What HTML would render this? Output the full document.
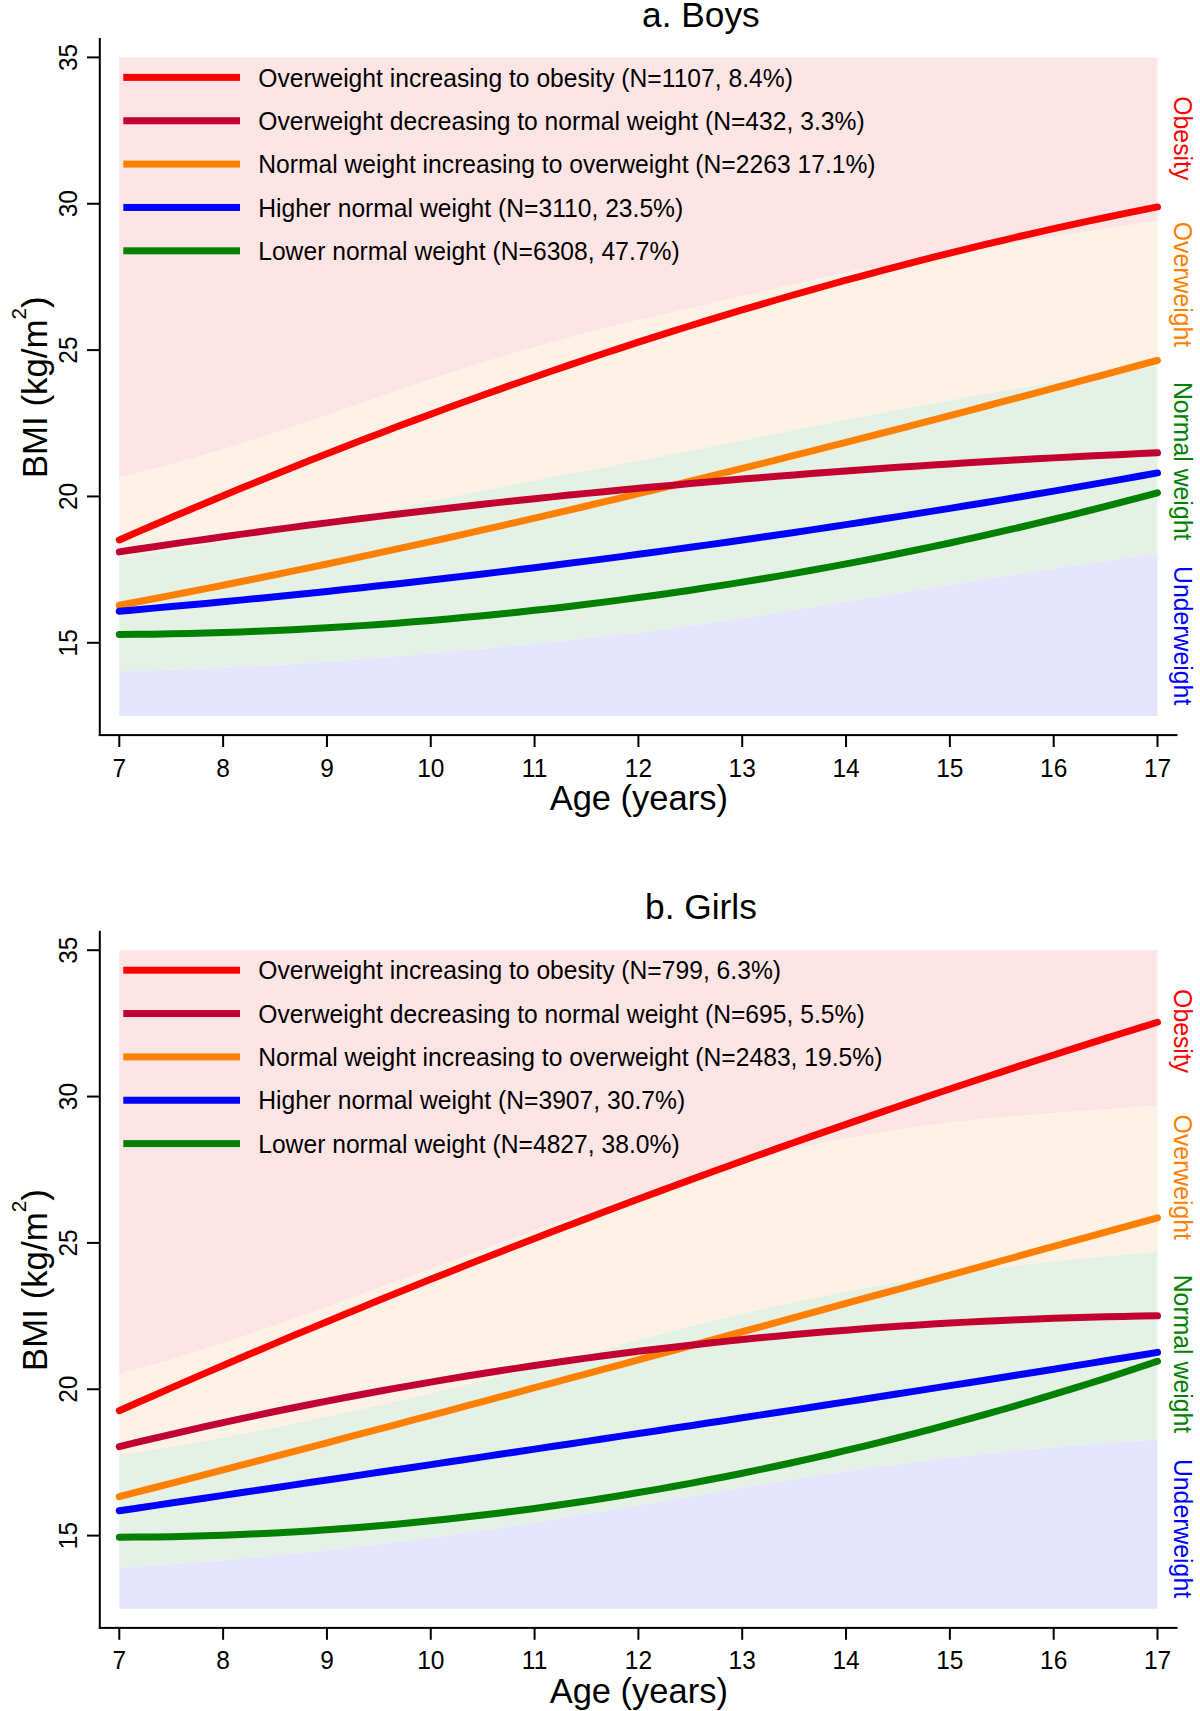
<!DOCTYPE html>
<html><head><meta charset="utf-8"><style>
html,body{margin:0;padding:0;background:#fff;overflow:hidden;}
svg{display:block;}
text{font-family:"Liberation Sans",sans-serif;fill:#000;}
</style></head><body>
<svg width="1200" height="1711" viewBox="0 0 1200 1711">
<rect width="1200" height="1711" fill="#fff"/>
<path d="M119.30,57.40 L171.21,57.40 L223.12,57.40 L275.03,57.40 L326.94,57.40 L378.85,57.40 L430.76,57.40 L482.67,57.40 L534.58,57.40 L586.49,57.40 L638.40,57.40 L690.31,57.40 L742.22,57.40 L794.13,57.40 L846.04,57.40 L897.95,57.40 L949.86,57.40 L1001.77,57.40 L1053.68,57.40 L1105.59,57.40 L1157.50,57.40 L1157.50,221.02 L1105.59,228.92 L1053.68,236.53 L1001.77,244.73 L949.86,253.51 L897.95,262.88 L846.04,273.12 L794.13,284.24 L742.22,296.24 L690.31,308.24 L638.40,320.24 L586.49,333.12 L534.58,347.17 L482.67,362.69 L430.76,379.37 L378.85,397.22 L326.94,415.37 L275.03,432.93 L223.12,449.62 L171.21,464.55 L119.30,478.01 Z" fill="#fee5e5"/>
<path d="M119.30,478.01 L171.21,464.55 L223.12,449.62 L275.03,432.93 L326.94,415.37 L378.85,397.22 L430.76,379.37 L482.67,362.69 L534.58,347.17 L586.49,333.12 L638.40,320.24 L690.31,308.24 L742.22,296.24 L794.13,284.24 L846.04,273.12 L897.95,262.88 L949.86,253.51 L1001.77,244.73 L1053.68,236.53 L1105.59,228.92 L1157.50,221.02 L1157.50,365.91 L1105.59,373.81 L1053.68,382.30 L1001.77,391.08 L949.86,400.15 L897.95,409.81 L846.04,419.76 L794.13,430.01 L742.22,440.54 L690.31,450.79 L638.40,460.74 L586.49,470.40 L534.58,480.35 L482.67,490.60 L430.76,501.13 L378.85,512.26 L326.94,522.79 L275.03,532.74 L223.12,542.11 L171.21,550.31 L119.30,557.33 Z" fill="#fef2e6"/>
<path d="M119.30,557.33 L171.21,550.31 L223.12,542.11 L275.03,532.74 L326.94,522.79 L378.85,512.26 L430.76,501.13 L482.67,490.60 L534.58,480.35 L586.49,470.40 L638.40,460.74 L690.31,450.79 L742.22,440.54 L794.13,430.01 L846.04,419.76 L897.95,409.81 L949.86,400.15 L1001.77,391.08 L1053.68,382.30 L1105.59,373.81 L1157.50,365.91 L1157.50,553.53 L1105.59,560.84 L1053.68,568.45 L1001.77,576.65 L949.86,584.85 L897.95,593.33 L846.04,601.53 L794.13,610.02 L742.22,618.21 L690.31,625.82 L638.40,632.56 L586.49,638.12 L534.58,643.68 L482.67,648.65 L430.76,653.34 L378.85,657.73 L326.94,661.83 L275.03,665.05 L223.12,667.68 L171.21,669.73 L119.30,670.90 Z" fill="#e6f1e5"/>
<path d="M119.30,670.90 L171.21,669.73 L223.12,667.68 L275.03,665.05 L326.94,661.83 L378.85,657.73 L430.76,653.34 L482.67,648.65 L534.58,643.68 L586.49,638.12 L638.40,632.56 L690.31,625.82 L742.22,618.21 L794.13,610.02 L846.04,601.53 L897.95,593.33 L949.86,584.85 L1001.77,576.65 L1053.68,568.45 L1105.59,560.84 L1157.50,553.53 L1157.50,715.98 L1105.59,715.98 L1053.68,715.98 L1001.77,715.98 L949.86,715.98 L897.95,715.98 L846.04,715.98 L794.13,715.98 L742.22,715.98 L690.31,715.98 L638.40,715.98 L586.49,715.98 L534.58,715.98 L482.67,715.98 L430.76,715.98 L378.85,715.98 L326.94,715.98 L275.03,715.98 L223.12,715.98 L171.21,715.98 L119.30,715.98 Z" fill="#e5e5fd"/>
<path d="M119.30,605.23 L136.60,601.98 L153.91,598.70 L171.21,595.38 L188.51,592.02 L205.82,588.63 L223.12,585.21 L240.42,581.75 L257.73,578.26 L275.03,574.73 L292.33,571.17 L309.64,567.58 L326.94,563.95 L344.24,560.30 L361.55,556.61 L378.85,552.89 L396.15,549.15 L413.46,545.37 L430.76,541.56 L448.06,537.72 L465.37,533.85 L482.67,529.96 L499.97,526.04 L517.28,522.09 L534.58,518.11 L551.88,514.10 L569.19,510.07 L586.49,506.02 L603.79,501.93 L621.10,497.83 L638.40,493.70 L655.70,489.54 L673.01,485.36 L690.31,481.16 L707.61,476.93 L724.92,472.68 L742.22,468.41 L759.52,464.12 L776.83,459.80 L794.13,455.47 L811.43,451.11 L828.74,446.73 L846.04,442.34 L863.34,437.92 L880.65,433.49 L897.95,429.04 L915.25,424.57 L932.56,420.08 L949.86,415.57 L967.16,411.05 L984.47,406.51 L1001.77,401.96 L1019.07,397.39 L1036.38,392.81 L1053.68,388.21 L1070.98,383.59 L1088.29,378.96 L1105.59,374.32 L1122.89,369.67 L1140.20,365.00 L1157.50,360.32" fill="none" stroke="#ff7f00" stroke-width="7" stroke-linecap="round" stroke-linejoin="round"/>
<path d="M119.30,634.51 L136.60,634.36 L153.91,634.13 L171.21,633.83 L188.51,633.46 L205.82,633.01 L223.12,632.48 L240.42,631.89 L257.73,631.22 L275.03,630.47 L292.33,629.65 L309.64,628.76 L326.94,627.79 L344.24,626.75 L361.55,625.63 L378.85,624.44 L396.15,623.17 L413.46,621.83 L430.76,620.42 L448.06,618.93 L465.37,617.36 L482.67,615.72 L499.97,614.01 L517.28,612.22 L534.58,610.35 L551.88,608.41 L569.19,606.40 L586.49,604.31 L603.79,602.14 L621.10,599.90 L638.40,597.58 L655.70,595.19 L673.01,592.73 L690.31,590.18 L707.61,587.57 L724.92,584.87 L742.22,582.10 L759.52,579.26 L776.83,576.34 L794.13,573.34 L811.43,570.27 L828.74,567.12 L846.04,563.90 L863.34,560.60 L880.65,557.22 L897.95,553.77 L915.25,550.24 L932.56,546.64 L949.86,542.96 L967.16,539.20 L984.47,535.37 L1001.77,531.46 L1019.07,527.48 L1036.38,523.41 L1053.68,519.27 L1070.98,515.06 L1088.29,510.77 L1105.59,506.40 L1122.89,501.95 L1140.20,497.43 L1157.50,492.83" fill="none" stroke="#008000" stroke-width="7" stroke-linecap="round" stroke-linejoin="round"/>
<path d="M119.30,611.14 L136.60,609.65 L153.91,608.13 L171.21,606.59 L188.51,605.01 L205.82,603.41 L223.12,601.78 L240.42,600.12 L257.73,598.43 L275.03,596.72 L292.33,594.97 L309.64,593.20 L326.94,591.41 L344.24,589.58 L361.55,587.73 L378.85,585.84 L396.15,583.93 L413.46,582.00 L430.76,580.03 L448.06,578.04 L465.37,576.02 L482.67,573.97 L499.97,571.89 L517.28,569.79 L534.58,567.66 L551.88,565.50 L569.19,563.32 L586.49,561.10 L603.79,558.86 L621.10,556.60 L638.40,554.30 L655.70,551.98 L673.01,549.63 L690.31,547.25 L707.61,544.85 L724.92,542.42 L742.22,539.96 L759.52,537.47 L776.83,534.96 L794.13,532.42 L811.43,529.86 L828.74,527.26 L846.04,524.64 L863.34,521.99 L880.65,519.32 L897.95,516.62 L915.25,513.89 L932.56,511.14 L949.86,508.36 L967.16,505.55 L984.47,502.72 L1001.77,499.86 L1019.07,496.97 L1036.38,494.05 L1053.68,491.11 L1070.98,488.15 L1088.29,485.15 L1105.59,482.13 L1122.89,479.09 L1140.20,476.01 L1157.50,472.92" fill="none" stroke="#0000ff" stroke-width="7" stroke-linecap="round" stroke-linejoin="round"/>
<path d="M119.30,551.89 L136.60,549.28 L153.91,546.70 L171.21,544.16 L188.51,541.66 L205.82,539.18 L223.12,536.75 L240.42,534.35 L257.73,531.98 L275.03,529.64 L292.33,527.35 L309.64,525.08 L326.94,522.85 L344.24,520.65 L361.55,518.49 L378.85,516.36 L396.15,514.26 L413.46,512.20 L430.76,510.17 L448.06,508.17 L465.37,506.21 L482.67,504.28 L499.97,502.38 L517.28,500.51 L534.58,498.67 L551.88,496.87 L569.19,495.10 L586.49,493.36 L603.79,491.65 L621.10,489.98 L638.40,488.33 L655.70,486.72 L673.01,485.14 L690.31,483.59 L707.61,482.06 L724.92,480.57 L742.22,479.11 L759.52,477.69 L776.83,476.29 L794.13,474.92 L811.43,473.58 L828.74,472.27 L846.04,470.99 L863.34,469.74 L880.65,468.51 L897.95,467.32 L915.25,466.16 L932.56,465.02 L949.86,463.92 L967.16,462.84 L984.47,461.79 L1001.77,460.77 L1019.07,459.78 L1036.38,458.81 L1053.68,457.88 L1070.98,456.97 L1088.29,456.09 L1105.59,455.23 L1122.89,454.41 L1140.20,453.61 L1157.50,452.83" fill="none" stroke="#c2002f" stroke-width="7" stroke-linecap="round" stroke-linejoin="round"/>
<path d="M119.30,539.93 L136.60,532.40 L153.91,524.94 L171.21,517.53 L188.51,510.19 L205.82,502.92 L223.12,495.70 L240.42,488.55 L257.73,481.47 L275.03,474.44 L292.33,467.49 L309.64,460.59 L326.94,453.76 L344.24,447.00 L361.55,440.30 L378.85,433.67 L396.15,427.10 L413.46,420.60 L430.76,414.16 L448.06,407.80 L465.37,401.49 L482.67,395.26 L499.97,389.09 L517.28,382.99 L534.58,376.96 L551.88,370.99 L569.19,365.10 L586.49,359.27 L603.79,353.51 L621.10,347.82 L638.40,342.20 L655.70,336.65 L673.01,331.17 L690.31,325.75 L707.61,320.41 L724.92,315.14 L742.22,309.94 L759.52,304.81 L776.83,299.75 L794.13,294.76 L811.43,289.84 L828.74,285.00 L846.04,280.23 L863.34,275.53 L880.65,270.90 L897.95,266.34 L915.25,261.86 L932.56,257.45 L949.86,253.12 L967.16,248.86 L984.47,244.67 L1001.77,240.56 L1019.07,236.52 L1036.38,232.56 L1053.68,228.67 L1070.98,224.86 L1088.29,221.12 L1105.59,217.46 L1122.89,213.87 L1140.20,210.36 L1157.50,206.93" fill="none" stroke="#ff0000" stroke-width="7" stroke-linecap="round" stroke-linejoin="round"/>
<rect x="123.3" y="73.90" width="116.7" height="7" fill="#ff0000"/>
<text transform="translate(258.2,86.60) scale(1,1.065)" font-size="24.66">Overweight increasing to obesity (N=1107, 8.4%)</text>
<rect x="123.3" y="117.25" width="116.7" height="7" fill="#c2002f"/>
<text transform="translate(258.2,129.95) scale(1,1.065)" font-size="24.66">Overweight decreasing to normal weight (N=432, 3.3%)</text>
<rect x="123.3" y="160.60" width="116.7" height="7" fill="#ff7f00"/>
<text transform="translate(258.2,173.30) scale(1,1.065)" font-size="24.66">Normal weight increasing to overweight (N=2263 17.1%)</text>
<rect x="123.3" y="203.95" width="116.7" height="7" fill="#0000ff"/>
<text transform="translate(258.2,216.65) scale(1,1.065)" font-size="24.66">Higher normal weight (N=3110, 23.5%)</text>
<rect x="123.3" y="247.30" width="116.7" height="7" fill="#008000"/>
<text transform="translate(258.2,260.00) scale(1,1.065)" font-size="24.66">Lower normal weight (N=6308, 47.7%)</text>
<rect x="98.8" y="38" width="2" height="698" fill="#000"/>
<rect x="98.8" y="734.1" width="1078.7" height="2" fill="#000"/>
<rect x="87" y="641.80" width="13" height="2" fill="#000"/>
<text transform="translate(77.2,642.80) rotate(-90) scale(1,1.065)" text-anchor="middle" font-size="24.5">15</text>
<rect x="87" y="495.45" width="13" height="2" fill="#000"/>
<text transform="translate(77.2,496.45) rotate(-90) scale(1,1.065)" text-anchor="middle" font-size="24.5">20</text>
<rect x="87" y="349.10" width="13" height="2" fill="#000"/>
<text transform="translate(77.2,350.10) rotate(-90) scale(1,1.065)" text-anchor="middle" font-size="24.5">25</text>
<rect x="87" y="202.75" width="13" height="2" fill="#000"/>
<text transform="translate(77.2,203.75) rotate(-90) scale(1,1.065)" text-anchor="middle" font-size="24.5">30</text>
<rect x="87" y="56.40" width="13" height="2" fill="#000"/>
<text transform="translate(77.2,57.40) rotate(-90) scale(1,1.065)" text-anchor="middle" font-size="24.5">35</text>
<rect x="118.30" y="735" width="2" height="12" fill="#000"/>
<text transform="translate(119.30,776.6) scale(1,1.065)" text-anchor="middle" font-size="24.5">7</text>
<rect x="222.12" y="735" width="2" height="12" fill="#000"/>
<text transform="translate(223.12,776.6) scale(1,1.065)" text-anchor="middle" font-size="24.5">8</text>
<rect x="325.94" y="735" width="2" height="12" fill="#000"/>
<text transform="translate(326.94,776.6) scale(1,1.065)" text-anchor="middle" font-size="24.5">9</text>
<rect x="429.76" y="735" width="2" height="12" fill="#000"/>
<text transform="translate(430.76,776.6) scale(1,1.065)" text-anchor="middle" font-size="24.5">10</text>
<rect x="533.58" y="735" width="2" height="12" fill="#000"/>
<text transform="translate(534.58,776.6) scale(1,1.065)" text-anchor="middle" font-size="24.5">11</text>
<rect x="637.40" y="735" width="2" height="12" fill="#000"/>
<text transform="translate(638.40,776.6) scale(1,1.065)" text-anchor="middle" font-size="24.5">12</text>
<rect x="741.22" y="735" width="2" height="12" fill="#000"/>
<text transform="translate(742.22,776.6) scale(1,1.065)" text-anchor="middle" font-size="24.5">13</text>
<rect x="845.04" y="735" width="2" height="12" fill="#000"/>
<text transform="translate(846.04,776.6) scale(1,1.065)" text-anchor="middle" font-size="24.5">14</text>
<rect x="948.86" y="735" width="2" height="12" fill="#000"/>
<text transform="translate(949.86,776.6) scale(1,1.065)" text-anchor="middle" font-size="24.5">15</text>
<rect x="1052.68" y="735" width="2" height="12" fill="#000"/>
<text transform="translate(1053.68,776.6) scale(1,1.065)" text-anchor="middle" font-size="24.5">16</text>
<rect x="1156.50" y="735" width="2" height="12" fill="#000"/>
<text transform="translate(1157.50,776.6) scale(1,1.065)" text-anchor="middle" font-size="24.5">17</text>
<text x="638.8" y="809.9" text-anchor="middle" font-size="34.5">Age (years)</text>
<text x="700.9" y="26.5" text-anchor="middle" font-size="35.3">a. Boys</text>
<text transform="translate(47.3,478.1) rotate(-90)" font-size="34.8">BMI (kg/m<tspan font-size="20.7" dy="-21.5">2</tspan><tspan dy="21.5">)</tspan></text>
<text transform="translate(1173.8,96.3) rotate(90) scale(1,1.065)" font-size="24.8" style="fill:#ff0000">Obesity</text>
<text transform="translate(1173.8,221.8) rotate(90) scale(1,1.065)" font-size="24.8" style="fill:#ff7f00">Overweight</text>
<text transform="translate(1173.8,381.9) rotate(90) scale(1,1.065)" font-size="24.8" style="fill:#008000">Normal weight</text>
<text transform="translate(1173.8,566.1) rotate(90) scale(1,1.065)" font-size="24.8" style="fill:#0000ff">Underweight</text>
<path d="M119.30,950.20 L171.21,950.20 L223.12,950.20 L275.03,950.20 L326.94,950.20 L378.85,950.20 L430.76,950.20 L482.67,950.20 L534.58,950.20 L586.49,950.20 L638.40,950.20 L690.31,950.20 L742.22,950.20 L794.13,950.20 L846.04,950.20 L897.95,950.20 L949.86,950.20 L1001.77,950.20 L1053.68,950.20 L1105.59,950.20 L1157.50,950.20 L1157.50,1105.62 L1105.59,1109.43 L1053.68,1113.23 L1001.77,1117.33 L949.86,1122.60 L897.95,1129.63 L846.04,1138.41 L794.13,1149.24 L742.22,1162.11 L690.31,1177.34 L638.40,1194.02 L586.49,1212.17 L534.58,1230.61 L482.67,1249.63 L430.76,1268.95 L378.85,1287.98 L326.94,1307.00 L275.03,1325.44 L223.12,1343.30 L171.21,1359.69 L119.30,1374.32 Z" fill="#fee5e5"/>
<path d="M119.30,1374.32 L171.21,1359.69 L223.12,1343.30 L275.03,1325.44 L326.94,1307.00 L378.85,1287.98 L430.76,1268.95 L482.67,1249.63 L534.58,1230.61 L586.49,1212.17 L638.40,1194.02 L690.31,1177.34 L742.22,1162.11 L794.13,1149.24 L846.04,1138.41 L897.95,1129.63 L949.86,1122.60 L1001.77,1117.33 L1053.68,1113.23 L1105.59,1109.43 L1157.50,1105.62 L1157.50,1251.68 L1105.59,1256.36 L1053.68,1261.34 L1001.77,1267.19 L949.86,1273.93 L897.95,1282.12 L846.04,1291.49 L794.13,1302.03 L742.22,1313.73 L690.31,1326.61 L638.40,1340.08 L586.49,1354.13 L534.58,1367.59 L482.67,1380.76 L430.76,1393.35 L378.85,1405.35 L326.94,1416.47 L275.03,1427.59 L223.12,1437.55 L171.21,1446.91 L119.30,1455.11 Z" fill="#fef2e6"/>
<path d="M119.30,1455.11 L171.21,1446.91 L223.12,1437.55 L275.03,1427.59 L326.94,1416.47 L378.85,1405.35 L430.76,1393.35 L482.67,1380.76 L534.58,1367.59 L586.49,1354.13 L638.40,1340.08 L690.31,1326.61 L742.22,1313.73 L794.13,1302.03 L846.04,1291.49 L897.95,1282.12 L949.86,1273.93 L1001.77,1267.19 L1053.68,1261.34 L1105.59,1256.36 L1157.50,1251.68 L1157.50,1439.59 L1105.59,1443.11 L1053.68,1447.20 L1001.77,1451.89 L949.86,1457.45 L897.95,1463.89 L846.04,1471.21 L794.13,1479.11 L742.22,1487.60 L690.31,1496.38 L638.40,1505.16 L586.49,1513.94 L534.58,1522.43 L482.67,1530.33 L430.76,1537.65 L378.85,1544.09 L326.94,1549.94 L275.03,1555.21 L223.12,1560.19 L171.21,1564.28 L119.30,1567.80 Z" fill="#e6f1e5"/>
<path d="M119.30,1567.80 L171.21,1564.28 L223.12,1560.19 L275.03,1555.21 L326.94,1549.94 L378.85,1544.09 L430.76,1537.65 L482.67,1530.33 L534.58,1522.43 L586.49,1513.94 L638.40,1505.16 L690.31,1496.38 L742.22,1487.60 L794.13,1479.11 L846.04,1471.21 L897.95,1463.89 L949.86,1457.45 L1001.77,1451.89 L1053.68,1447.20 L1105.59,1443.11 L1157.50,1439.59 L1157.50,1608.78 L1105.59,1608.78 L1053.68,1608.78 L1001.77,1608.78 L949.86,1608.78 L897.95,1608.78 L846.04,1608.78 L794.13,1608.78 L742.22,1608.78 L690.31,1608.78 L638.40,1608.78 L586.49,1608.78 L534.58,1608.78 L482.67,1608.78 L430.76,1608.78 L378.85,1608.78 L326.94,1608.78 L275.03,1608.78 L223.12,1608.78 L171.21,1608.78 L119.30,1608.78 Z" fill="#e5e5fd"/>
<path d="M119.30,1496.64 L136.60,1492.20 L153.91,1487.75 L171.21,1483.29 L188.51,1478.83 L205.82,1474.35 L223.12,1469.87 L240.42,1465.37 L257.73,1460.87 L275.03,1456.36 L292.33,1451.84 L309.64,1447.31 L326.94,1442.77 L344.24,1438.23 L361.55,1433.67 L378.85,1429.11 L396.15,1424.55 L413.46,1419.97 L430.76,1415.39 L448.06,1410.80 L465.37,1406.20 L482.67,1401.59 L499.97,1396.98 L517.28,1392.36 L534.58,1387.74 L551.88,1383.10 L569.19,1378.47 L586.49,1373.82 L603.79,1369.17 L621.10,1364.51 L638.40,1359.85 L655.70,1355.18 L673.01,1350.50 L690.31,1345.82 L707.61,1341.14 L724.92,1336.45 L742.22,1331.75 L759.52,1327.05 L776.83,1322.34 L794.13,1317.63 L811.43,1312.91 L828.74,1308.19 L846.04,1303.46 L863.34,1298.73 L880.65,1294.00 L897.95,1289.26 L915.25,1284.52 L932.56,1279.77 L949.86,1275.02 L967.16,1270.27 L984.47,1265.51 L1001.77,1260.75 L1019.07,1255.99 L1036.38,1251.22 L1053.68,1246.45 L1070.98,1241.67 L1088.29,1236.90 L1105.59,1232.12 L1122.89,1227.34 L1140.20,1222.55 L1157.50,1217.77" fill="none" stroke="#ff7f00" stroke-width="7" stroke-linecap="round" stroke-linejoin="round"/>
<path d="M119.30,1537.21 L136.60,1537.11 L153.91,1536.93 L171.21,1536.64 L188.51,1536.26 L205.82,1535.78 L223.12,1535.21 L240.42,1534.54 L257.73,1533.77 L275.03,1532.91 L292.33,1531.95 L309.64,1530.90 L326.94,1529.74 L344.24,1528.50 L361.55,1527.15 L378.85,1525.71 L396.15,1524.18 L413.46,1522.54 L430.76,1520.81 L448.06,1518.99 L465.37,1517.07 L482.67,1515.05 L499.97,1512.94 L517.28,1510.72 L534.58,1508.42 L551.88,1506.01 L569.19,1503.52 L586.49,1500.92 L603.79,1498.23 L621.10,1495.44 L638.40,1492.56 L655.70,1489.58 L673.01,1486.50 L690.31,1483.33 L707.61,1480.06 L724.92,1476.69 L742.22,1473.23 L759.52,1469.67 L776.83,1466.02 L794.13,1462.26 L811.43,1458.42 L828.74,1454.47 L846.04,1450.43 L863.34,1446.30 L880.65,1442.07 L897.95,1437.74 L915.25,1433.31 L932.56,1428.79 L949.86,1424.18 L967.16,1419.46 L984.47,1414.65 L1001.77,1409.75 L1019.07,1404.74 L1036.38,1399.65 L1053.68,1394.45 L1070.98,1389.16 L1088.29,1383.77 L1105.59,1378.29 L1122.89,1372.71 L1140.20,1367.03 L1157.50,1361.26" fill="none" stroke="#008000" stroke-width="7" stroke-linecap="round" stroke-linejoin="round"/>
<path d="M119.30,1510.77 L136.60,1508.20 L153.91,1505.63 L171.21,1503.06 L188.51,1500.50 L205.82,1497.93 L223.12,1495.37 L240.42,1492.81 L257.73,1490.25 L275.03,1487.68 L292.33,1485.12 L309.64,1482.56 L326.94,1480.00 L344.24,1477.43 L361.55,1474.87 L378.85,1472.30 L396.15,1469.74 L413.46,1467.17 L430.76,1464.60 L448.06,1462.03 L465.37,1459.45 L482.67,1456.87 L499.97,1454.30 L517.28,1451.71 L534.58,1449.13 L551.88,1446.54 L569.19,1443.95 L586.49,1441.35 L603.79,1438.76 L621.10,1436.15 L638.40,1433.55 L655.70,1430.93 L673.01,1428.32 L690.31,1425.70 L707.61,1423.07 L724.92,1420.44 L742.22,1417.80 L759.52,1415.16 L776.83,1412.51 L794.13,1409.86 L811.43,1407.20 L828.74,1404.53 L846.04,1401.86 L863.34,1399.18 L880.65,1396.49 L897.95,1393.79 L915.25,1391.09 L932.56,1388.38 L949.86,1385.66 L967.16,1382.94 L984.47,1380.20 L1001.77,1377.46 L1019.07,1374.71 L1036.38,1371.94 L1053.68,1369.17 L1070.98,1366.39 L1088.29,1363.60 L1105.59,1360.80 L1122.89,1358.00 L1140.20,1355.18 L1157.50,1352.35" fill="none" stroke="#0000ff" stroke-width="7" stroke-linecap="round" stroke-linejoin="round"/>
<path d="M119.30,1446.60 L136.60,1442.43 L153.91,1438.32 L171.21,1434.29 L188.51,1430.32 L205.82,1426.43 L223.12,1422.60 L240.42,1418.85 L257.73,1415.16 L275.03,1411.55 L292.33,1408.00 L309.64,1404.52 L326.94,1401.11 L344.24,1397.77 L361.55,1394.49 L378.85,1391.29 L396.15,1388.15 L413.46,1385.08 L430.76,1382.08 L448.06,1379.15 L465.37,1376.28 L482.67,1373.49 L499.97,1370.76 L517.28,1368.10 L534.58,1365.50 L551.88,1362.97 L569.19,1360.51 L586.49,1358.12 L603.79,1355.79 L621.10,1353.53 L638.40,1351.34 L655.70,1349.21 L673.01,1347.15 L690.31,1345.15 L707.61,1343.23 L724.92,1341.36 L742.22,1339.57 L759.52,1337.83 L776.83,1336.17 L794.13,1334.57 L811.43,1333.03 L828.74,1331.56 L846.04,1330.16 L863.34,1328.82 L880.65,1327.54 L897.95,1326.33 L915.25,1325.18 L932.56,1324.10 L949.86,1323.08 L967.16,1322.13 L984.47,1321.24 L1001.77,1320.42 L1019.07,1319.65 L1036.38,1318.96 L1053.68,1318.32 L1070.98,1317.75 L1088.29,1317.24 L1105.59,1316.80 L1122.89,1316.42 L1140.20,1316.10 L1157.50,1315.84" fill="none" stroke="#c2002f" stroke-width="7" stroke-linecap="round" stroke-linejoin="round"/>
<path d="M119.30,1410.69 L136.60,1403.05 L153.91,1395.44 L171.21,1387.88 L188.51,1380.36 L205.82,1372.88 L223.12,1365.44 L240.42,1358.04 L257.73,1350.69 L275.03,1343.37 L292.33,1336.10 L309.64,1328.87 L326.94,1321.67 L344.24,1314.52 L361.55,1307.41 L378.85,1300.34 L396.15,1293.31 L413.46,1286.32 L430.76,1279.37 L448.06,1272.46 L465.37,1265.59 L482.67,1258.76 L499.97,1251.97 L517.28,1245.22 L534.58,1238.51 L551.88,1231.84 L569.19,1225.20 L586.49,1218.61 L603.79,1212.06 L621.10,1205.54 L638.40,1199.06 L655.70,1192.62 L673.01,1186.22 L690.31,1179.86 L707.61,1173.54 L724.92,1167.25 L742.22,1161.01 L759.52,1154.80 L776.83,1148.63 L794.13,1142.49 L811.43,1136.40 L828.74,1130.34 L846.04,1124.32 L863.34,1118.34 L880.65,1112.39 L897.95,1106.48 L915.25,1100.61 L932.56,1094.78 L949.86,1088.98 L967.16,1083.22 L984.47,1077.49 L1001.77,1071.81 L1019.07,1066.15 L1036.38,1060.54 L1053.68,1054.96 L1070.98,1049.41 L1088.29,1043.91 L1105.59,1038.44 L1122.89,1033.00 L1140.20,1027.60 L1157.50,1022.23" fill="none" stroke="#ff0000" stroke-width="7" stroke-linecap="round" stroke-linejoin="round"/>
<rect x="123.3" y="966.70" width="116.7" height="7" fill="#ff0000"/>
<text transform="translate(258.2,979.40) scale(1,1.065)" font-size="24.66">Overweight increasing to obesity (N=799, 6.3%)</text>
<rect x="123.3" y="1010.05" width="116.7" height="7" fill="#c2002f"/>
<text transform="translate(258.2,1022.75) scale(1,1.065)" font-size="24.66">Overweight decreasing to normal weight (N=695, 5.5%)</text>
<rect x="123.3" y="1053.40" width="116.7" height="7" fill="#ff7f00"/>
<text transform="translate(258.2,1066.10) scale(1,1.065)" font-size="24.66">Normal weight increasing to overweight (N=2483, 19.5%)</text>
<rect x="123.3" y="1096.75" width="116.7" height="7" fill="#0000ff"/>
<text transform="translate(258.2,1109.45) scale(1,1.065)" font-size="24.66">Higher normal weight (N=3907, 30.7%)</text>
<rect x="123.3" y="1140.10" width="116.7" height="7" fill="#008000"/>
<text transform="translate(258.2,1152.80) scale(1,1.065)" font-size="24.66">Lower normal weight (N=4827, 38.0%)</text>
<rect x="98.8" y="930.8" width="2" height="698" fill="#000"/>
<rect x="98.8" y="1626.9" width="1078.7" height="2" fill="#000"/>
<rect x="87" y="1534.60" width="13" height="2" fill="#000"/>
<text transform="translate(77.2,1535.60) rotate(-90) scale(1,1.065)" text-anchor="middle" font-size="24.5">15</text>
<rect x="87" y="1388.25" width="13" height="2" fill="#000"/>
<text transform="translate(77.2,1389.25) rotate(-90) scale(1,1.065)" text-anchor="middle" font-size="24.5">20</text>
<rect x="87" y="1241.90" width="13" height="2" fill="#000"/>
<text transform="translate(77.2,1242.90) rotate(-90) scale(1,1.065)" text-anchor="middle" font-size="24.5">25</text>
<rect x="87" y="1095.55" width="13" height="2" fill="#000"/>
<text transform="translate(77.2,1096.55) rotate(-90) scale(1,1.065)" text-anchor="middle" font-size="24.5">30</text>
<rect x="87" y="949.20" width="13" height="2" fill="#000"/>
<text transform="translate(77.2,950.20) rotate(-90) scale(1,1.065)" text-anchor="middle" font-size="24.5">35</text>
<rect x="118.30" y="1627.8" width="2" height="12" fill="#000"/>
<text transform="translate(119.30,1669.4) scale(1,1.065)" text-anchor="middle" font-size="24.5">7</text>
<rect x="222.12" y="1627.8" width="2" height="12" fill="#000"/>
<text transform="translate(223.12,1669.4) scale(1,1.065)" text-anchor="middle" font-size="24.5">8</text>
<rect x="325.94" y="1627.8" width="2" height="12" fill="#000"/>
<text transform="translate(326.94,1669.4) scale(1,1.065)" text-anchor="middle" font-size="24.5">9</text>
<rect x="429.76" y="1627.8" width="2" height="12" fill="#000"/>
<text transform="translate(430.76,1669.4) scale(1,1.065)" text-anchor="middle" font-size="24.5">10</text>
<rect x="533.58" y="1627.8" width="2" height="12" fill="#000"/>
<text transform="translate(534.58,1669.4) scale(1,1.065)" text-anchor="middle" font-size="24.5">11</text>
<rect x="637.40" y="1627.8" width="2" height="12" fill="#000"/>
<text transform="translate(638.40,1669.4) scale(1,1.065)" text-anchor="middle" font-size="24.5">12</text>
<rect x="741.22" y="1627.8" width="2" height="12" fill="#000"/>
<text transform="translate(742.22,1669.4) scale(1,1.065)" text-anchor="middle" font-size="24.5">13</text>
<rect x="845.04" y="1627.8" width="2" height="12" fill="#000"/>
<text transform="translate(846.04,1669.4) scale(1,1.065)" text-anchor="middle" font-size="24.5">14</text>
<rect x="948.86" y="1627.8" width="2" height="12" fill="#000"/>
<text transform="translate(949.86,1669.4) scale(1,1.065)" text-anchor="middle" font-size="24.5">15</text>
<rect x="1052.68" y="1627.8" width="2" height="12" fill="#000"/>
<text transform="translate(1053.68,1669.4) scale(1,1.065)" text-anchor="middle" font-size="24.5">16</text>
<rect x="1156.50" y="1627.8" width="2" height="12" fill="#000"/>
<text transform="translate(1157.50,1669.4) scale(1,1.065)" text-anchor="middle" font-size="24.5">17</text>
<text x="638.8" y="1702.6999999999998" text-anchor="middle" font-size="34.5">Age (years)</text>
<text x="700.9" y="919.3" text-anchor="middle" font-size="35.3">b. Girls</text>
<text transform="translate(47.3,1370.9) rotate(-90)" font-size="34.8">BMI (kg/m<tspan font-size="20.7" dy="-21.5">2</tspan><tspan dy="21.5">)</tspan></text>
<text transform="translate(1173.8,989.1) rotate(90) scale(1,1.065)" font-size="24.8" style="fill:#ff0000">Obesity</text>
<text transform="translate(1173.8,1114.6) rotate(90) scale(1,1.065)" font-size="24.8" style="fill:#ff7f00">Overweight</text>
<text transform="translate(1173.8,1274.7) rotate(90) scale(1,1.065)" font-size="24.8" style="fill:#008000">Normal weight</text>
<text transform="translate(1173.8,1458.9) rotate(90) scale(1,1.065)" font-size="24.8" style="fill:#0000ff">Underweight</text>
</svg></body></html>
